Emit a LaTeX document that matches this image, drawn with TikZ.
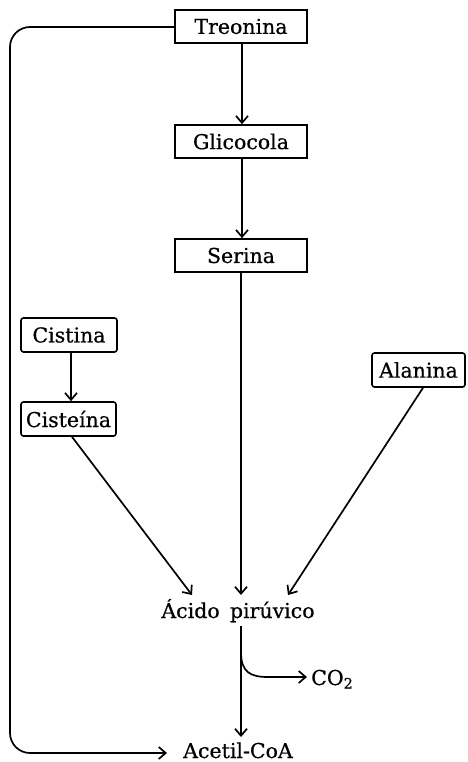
\documentclass[tikz,border=0pt]{standalone}
\usepackage{fontspec}
\setmainfont{DejaVu Serif}[FakeBold=0.6]
\usetikzlibrary{arrows.meta}
\begin{document}
\begin{tikzpicture}[x=1pt,y=-1pt,
  every node/.style={font=\fontsize{20.5}{23}\selectfont, inner sep=0pt},
  sqbox/.style={draw, line width=1.6pt, minimum width=132pt, minimum height=33pt},
  rbox/.style={draw, line width=1.6pt, rounded corners=2.5pt, minimum height=34pt},
  conn/.style={line width=1.7pt, -{Straight Barb[length=7pt,width=12pt,line width=1.7pt]}},
  plain/.style={line width=1.7pt}]
\useasboundingbox (0,0) rectangle (467,762);
\node[sqbox] (tre) at (241,26.5) {Treonina};
\node[sqbox] (gli) at (241,141.5) {Glicocola};
\node[sqbox] (ser) at (241,255.5) {Serina};
\node[rbox, minimum width=96pt] (cis) at (69,335) {Cistina};
\node[rbox, minimum width=95pt] (cst) at (68.5,419) {Cisteína};
\node[rbox, minimum width=93pt] (ala) at (418.5,370) {Alanina};
\node[anchor=base] (pir) at (238,618) {Ácido\hspace{0.5em}pirúvico};
\node[anchor=base] (acc) at (238,758) {Acetil-CoA};
\node[anchor=base west] (co2) at (311,685) {CO\textsubscript{2}};
\coordinate (pirL) at (192,595);
\coordinate (pirM) at (241,595);
\coordinate (pirR) at (288,595);
\coordinate (pirB) at (241,626);
\coordinate (br) at (241,652);
\coordinate (accT) at (241,737);
\coordinate (accW) at (167,753);
\coordinate (co2W) at (307,677);
\draw[conn] (tre.south -| 242,0) -- (gli.north -| 242,0);
\draw[conn] (gli.south -| 242,0) -- (ser.north -| 242,0);
\draw[conn] (ser.south -| pirM) -- (pirM);
\draw[conn] (cis.south -| 71,0) -- (cst.north -| 71,0);
\draw[conn] (cst.south -| 72,0) -- (pirL);
\draw[conn] (ala.south -| 423,0) -- (pirR);
\draw[conn] (pirB) -- (accT);
\draw[conn] (br) .. controls (241,672) and (250,677) .. (268,677) -- (co2W);
\draw[conn, rounded corners=20pt] (tre.west |- 0,27) -- (10,27) -- (10,753) -- (accW);
\end{tikzpicture}
\end{document}
